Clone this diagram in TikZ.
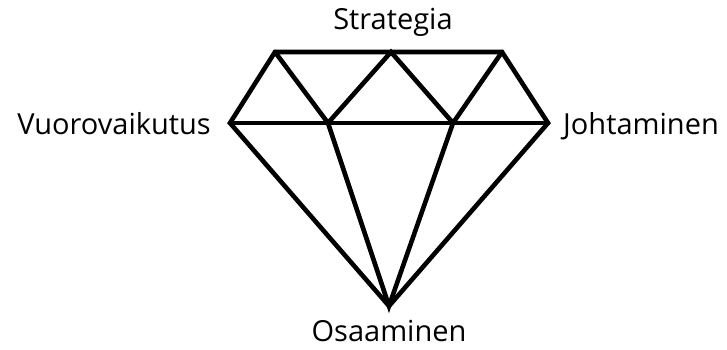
\documentclass[tikz,border=0pt]{standalone}
\usepackage{fontspec}
\setmainfont{Open Sans}
\begin{document}
\begin{tikzpicture}[x=1pt,y=-1pt,
  edge/.style={line width=4.6pt,line join=miter,line cap=round},
  lbl/.style={font=\fontsize{29}{32}\selectfont,inner sep=0pt}]
\useasboundingbox (0,0) rectangle (727,349);
\coordinate (tl) at (275,52);
\coordinate (tm) at (391,52);
\coordinate (tr) at (502,52);
\coordinate (ml) at (230,123);
\coordinate (mi1) at (328,123);
\coordinate (mi2) at (453,123);
\coordinate (mr) at (548,123);
\coordinate (b) at (389,306);
\draw[edge] (tl) -- (tr) -- (mr) -- (b) -- (ml) -- cycle;
\draw[edge] (ml) -- (mr);
\draw[edge] (tl) -- (mi1) -- (tm) -- (mi2) -- (tr);
\draw[edge] (mi1) -- (b) -- (mi2);
\node[lbl,anchor=base] (s) at (393,29) {Strategia};
\node[lbl,anchor=base east] (v) at (211,134) {Vuorovaikutus};
\node[lbl,anchor=base west] (j) at (563,134) {Johtaminen};
\node[lbl,anchor=base] (o) at (389,341) {Osaaminen};
\end{tikzpicture}
\end{document}
